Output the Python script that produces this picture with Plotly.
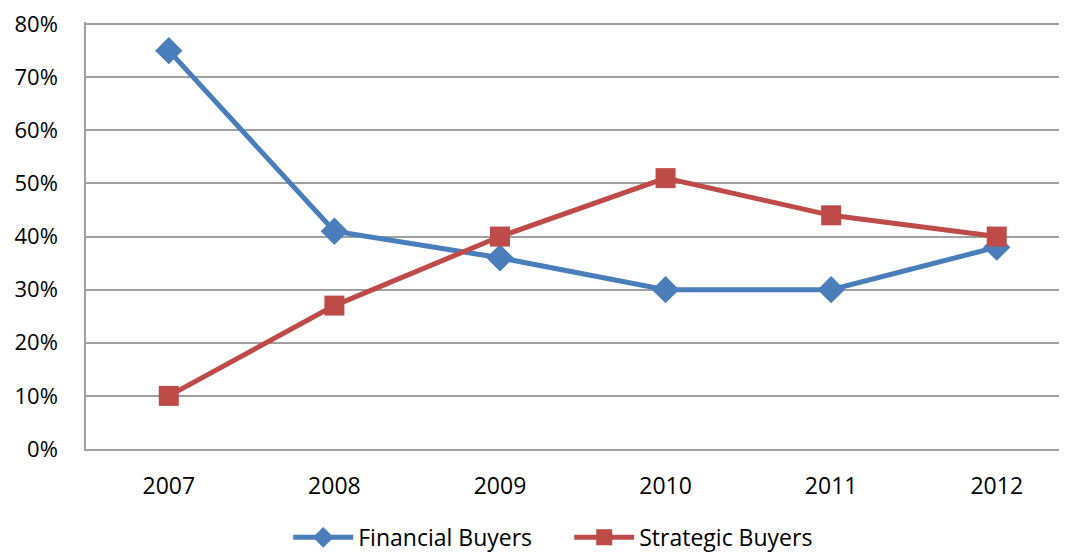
import plotly.graph_objects as go

years = ["2007", "2008", "2009", "2010", "2011", "2012"]
financial = [0.75, 0.41, 0.36, 0.30, 0.30, 0.38]
strategic = [0.10, 0.27, 0.40, 0.51, 0.44, 0.40]
y_ticks = [0, 0.1, 0.2, 0.3, 0.4, 0.5, 0.6, 0.7, 0.8]
y_labels = ["0%", "10%", "20%", "30%", "40%", "50%", "60%", "70%", "80%"]

fig = go.Figure()
fig.add_trace(go.Scatter(
    x=years, y=financial, name="Financial Buyers", mode="lines+markers",
    line=dict(color="#4A7EBB", width=5),
    marker=dict(symbol="diamond", size=21, color="#4A7EBB"),
))
fig.add_trace(go.Scatter(
    x=years, y=strategic, name="Strategic Buyers", mode="lines+markers",
    line=dict(color="#BE4B48", width=5),
    marker=dict(symbol="square", size=20, color="#BE4B48"),
))

fig.update_layout(
    width=1051, height=546,
    margin=dict(l=78, r=0, t=14, b=105, autoexpand=False),
    paper_bgcolor="white", plot_bgcolor="white",
    font=dict(family="Open Sans, Liberation Sans, sans-serif", color="#000000"),
    showlegend=True,
    legend=dict(orientation="h", xref="container", yref="paper",
                x=0.534, xanchor="center", y=-0.207, yanchor="middle",
                font=dict(size=23), itemwidth=60, entrywidth=206,
                traceorder="normal"),
)
fig.update_xaxes(
    type="category", range=[-0.5, 5.376], automargin=False,
    showline=True, linecolor="#A0A0A0", linewidth=1.5,
    showgrid=False, ticks="", tickfont=dict(size=23),
    ticklabelstandoff=16,
)
fig.update_yaxes(
    range=[0, 0.804], tickvals=y_ticks, ticktext=y_labels, automargin=False,
    showline=True, linecolor="#A0A0A0", linewidth=1.5,
    showgrid=True, gridcolor="#A0A0A0", gridwidth=1.5,
    zeroline=False, ticks="", tickfont=dict(size=22),
    ticklabelstandoff=22, ticklabeloverflow="allow",
)

fig.write_html("out.html")
